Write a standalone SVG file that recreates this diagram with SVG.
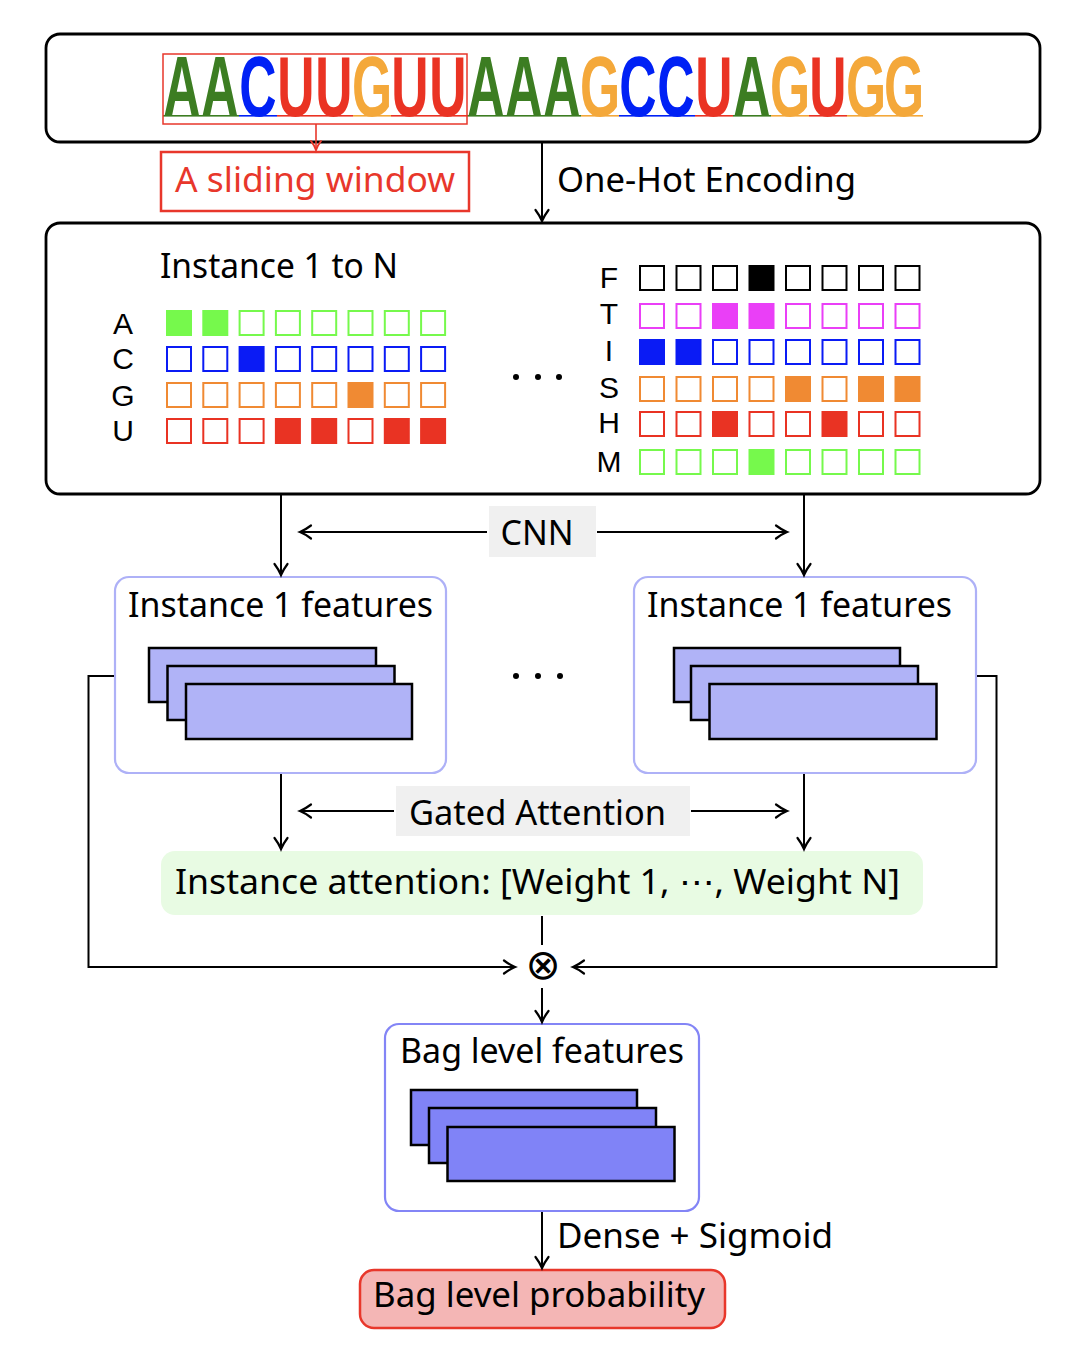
<svg xmlns="http://www.w3.org/2000/svg" width="1072" height="1352" viewBox="0 0 1072 1352">
<defs>
<marker id="ah" markerUnits="userSpaceOnUse" markerWidth="16" markerHeight="16" refX="13" refY="8" orient="auto" overflow="visible">
<path d="M2,1.5 Q8,6 13,8 Q8,10 2,14.5" fill="none" stroke="#000" stroke-width="2.2" stroke-linecap="round"/>
</marker>
<marker id="ahr" markerUnits="userSpaceOnUse" markerWidth="14" markerHeight="14" refX="11" refY="7" orient="auto" overflow="visible">
<path d="M2,2 Q7,5.8 11,7 Q7,8.2 2,12" fill="none" stroke="#E8372B" stroke-width="2" stroke-linecap="round"/>
</marker>
</defs>
<style>
.lbl{font-family:"Noto Sans","Open Sans",sans-serif;font-size:34px;fill:#000}
.row{font-family:"Liberation Sans",Arial,sans-serif;font-size:30px;fill:#000;text-anchor:middle}
.seq{font-family:"Liberation Sans",Arial,sans-serif;font-size:86px;font-weight:bold;text-anchor:middle}
.box{fill:#fff;stroke:#000;stroke-width:2.8}
.feat{fill:#fff;stroke:#AEB1F7;stroke-width:2.2}
.bagf{fill:#fff;stroke:#8385F6;stroke-width:2.2}
.fr{fill:#B0B3F7;stroke:#000;stroke-width:2.5}
.br{fill:#8083F7;stroke:#000;stroke-width:2.5}
.conn{stroke:#000;stroke-width:2;fill:none}
.gray{fill:#F0F0F0}
rect.q{stroke-width:2;fill:#fff}
.a{stroke:#76F94C}.a.f{fill:#76F94C}
.c{stroke:#0A1BF5}.c.f{fill:#0A1BF5}
.g{stroke:#F08A33}.g.f{fill:#F08A33}
.u{stroke:#E93323}.u.f{fill:#E93323}
.k{stroke:#000}.k.f{fill:#000}
.m{stroke:#EA3FF7}.m.f{fill:#EA3FF7}
.LA{fill:#3C7D22}.LC{fill:#0021F5}.LG{fill:#F4A83A}.LU{fill:#EA3323}
</style>

<g id="sequence">
<rect class="box" x="46" y="34" width="994" height="108" rx="14"/>
<g>
<rect x="163" y="115" width="76" height="1.6" fill="#3C7D22"/>
<rect x="239" y="115" width="38" height="1.6" fill="#0021F5"/>
<rect x="277" y="115" width="76" height="1.6" fill="#EA3323"/>
<rect x="353" y="115" width="38" height="1.6" fill="#F4A83A"/>
<rect x="391" y="115" width="76" height="1.6" fill="#EA3323"/>
<rect x="467" y="115" width="114" height="1.6" fill="#3C7D22"/>
<rect x="581" y="115" width="38" height="1.6" fill="#F4A83A"/>
<rect x="619" y="115" width="76" height="1.6" fill="#0021F5"/>
<rect x="695" y="115" width="38" height="1.6" fill="#EA3323"/>
<rect x="733" y="115" width="38" height="1.6" fill="#3C7D22"/>
<rect x="771" y="115" width="38" height="1.6" fill="#F4A83A"/>
<rect x="809" y="115" width="38" height="1.6" fill="#EA3323"/>
<rect x="847" y="115" width="76" height="1.6" fill="#F4A83A"/>
</g>
<text class="seq" transform="scale(0.6 1)" y="116"><tspan class="LA" x="303.333">A</tspan><tspan class="LA" x="366.667">A</tspan><tspan class="LC" x="430">C</tspan><tspan class="LU" x="493.333">U</tspan><tspan class="LU" x="556.667">U</tspan><tspan class="LG" x="620">G</tspan><tspan class="LU" x="683.333">U</tspan><tspan class="LU" x="746.667">U</tspan><tspan class="LA" x="810">A</tspan><tspan class="LA" x="873.333">A</tspan><tspan class="LA" x="936.667">A</tspan><tspan class="LG" x="1000">G</tspan><tspan class="LC" x="1063.333">C</tspan><tspan class="LC" x="1126.667">C</tspan><tspan class="LU" x="1190">U</tspan><tspan class="LA" x="1253.333">A</tspan><tspan class="LG" x="1316.667">G</tspan><tspan class="LU" x="1380">U</tspan><tspan class="LG" x="1443.333">G</tspan><tspan class="LG" x="1506.667">G</tspan></text>
<rect x="163" y="54" width="304" height="70" fill="none" stroke="#E8372B" stroke-width="1.5"/>
</g>

<g id="sliding-window">
<rect x="161" y="152" width="308" height="59" fill="#fff" stroke="#E8372B" stroke-width="2.5"/>
<text class="lbl" x="175" y="192" style="fill:#E8372B" textLength="280" lengthAdjust="spacingAndGlyphs">A sliding window</text>
</g>

<g id="instances">
<rect class="box" x="46" y="223" width="994" height="271" rx="14"/>
<text class="lbl" x="160" y="278" textLength="238" lengthAdjust="spacingAndGlyphs">Instance 1 to N</text>
<text class="row"><tspan x="123" y="334">A</tspan><tspan x="123" y="369">C</tspan><tspan x="123" y="406">G</tspan><tspan x="123" y="441">U</tspan></text>
<g>
<rect class="q a f" x="167" y="311" width="24" height="24"/><rect class="q a f" x="203.3" y="311" width="24" height="24"/><rect class="q a" x="239.6" y="311" width="24" height="24"/><rect class="q a" x="275.9" y="311" width="24" height="24"/><rect class="q a" x="312.2" y="311" width="24" height="24"/><rect class="q a" x="348.5" y="311" width="24" height="24"/><rect class="q a" x="384.8" y="311" width="24" height="24"/><rect class="q a" x="421.1" y="311" width="24" height="24"/>
<rect class="q c" x="167" y="347" width="24" height="24"/><rect class="q c" x="203.3" y="347" width="24" height="24"/><rect class="q c f" x="239.6" y="347" width="24" height="24"/><rect class="q c" x="275.9" y="347" width="24" height="24"/><rect class="q c" x="312.2" y="347" width="24" height="24"/><rect class="q c" x="348.5" y="347" width="24" height="24"/><rect class="q c" x="384.8" y="347" width="24" height="24"/><rect class="q c" x="421.1" y="347" width="24" height="24"/>
<rect class="q g" x="167" y="383" width="24" height="24"/><rect class="q g" x="203.3" y="383" width="24" height="24"/><rect class="q g" x="239.6" y="383" width="24" height="24"/><rect class="q g" x="275.9" y="383" width="24" height="24"/><rect class="q g" x="312.2" y="383" width="24" height="24"/><rect class="q g f" x="348.5" y="383" width="24" height="24"/><rect class="q g" x="384.8" y="383" width="24" height="24"/><rect class="q g" x="421.1" y="383" width="24" height="24"/>
<rect class="q u" x="167" y="419" width="24" height="24"/><rect class="q u" x="203.3" y="419" width="24" height="24"/><rect class="q u" x="239.6" y="419" width="24" height="24"/><rect class="q u f" x="275.9" y="419" width="24" height="24"/><rect class="q u f" x="312.2" y="419" width="24" height="24"/><rect class="q u" x="348.5" y="419" width="24" height="24"/><rect class="q u f" x="384.8" y="419" width="24" height="24"/><rect class="q u f" x="421.1" y="419" width="24" height="24"/>
</g>
<circle cx="516" cy="377" r="3"/><circle cx="538" cy="377" r="3"/><circle cx="559" cy="377" r="3"/>
<text class="row"><tspan x="609" y="288">F</tspan><tspan x="609" y="324">T</tspan><tspan x="609" y="361">I</tspan><tspan x="609" y="398">S</tspan><tspan x="609" y="433">H</tspan><tspan x="609" y="472">M</tspan></text>
<g>
<rect class="q k" x="640" y="266" width="24" height="24"/><rect class="q k" x="676.5" y="266" width="24" height="24"/><rect class="q k" x="713" y="266" width="24" height="24"/><rect class="q k f" x="749.5" y="266" width="24" height="24"/><rect class="q k" x="786" y="266" width="24" height="24"/><rect class="q k" x="822.5" y="266" width="24" height="24"/><rect class="q k" x="859" y="266" width="24" height="24"/><rect class="q k" x="895.5" y="266" width="24" height="24"/>
<rect class="q m" x="640" y="304" width="24" height="24"/><rect class="q m" x="676.5" y="304" width="24" height="24"/><rect class="q m f" x="713" y="304" width="24" height="24"/><rect class="q m f" x="749.5" y="304" width="24" height="24"/><rect class="q m" x="786" y="304" width="24" height="24"/><rect class="q m" x="822.5" y="304" width="24" height="24"/><rect class="q m" x="859" y="304" width="24" height="24"/><rect class="q m" x="895.5" y="304" width="24" height="24"/>
<rect class="q c f" x="640" y="340" width="24" height="24"/><rect class="q c f" x="676.5" y="340" width="24" height="24"/><rect class="q c" x="713" y="340" width="24" height="24"/><rect class="q c" x="749.5" y="340" width="24" height="24"/><rect class="q c" x="786" y="340" width="24" height="24"/><rect class="q c" x="822.5" y="340" width="24" height="24"/><rect class="q c" x="859" y="340" width="24" height="24"/><rect class="q c" x="895.5" y="340" width="24" height="24"/>
<rect class="q g" x="640" y="377" width="24" height="24"/><rect class="q g" x="676.5" y="377" width="24" height="24"/><rect class="q g" x="713" y="377" width="24" height="24"/><rect class="q g" x="749.5" y="377" width="24" height="24"/><rect class="q g f" x="786" y="377" width="24" height="24"/><rect class="q g" x="822.5" y="377" width="24" height="24"/><rect class="q g f" x="859" y="377" width="24" height="24"/><rect class="q g f" x="895.5" y="377" width="24" height="24"/>
<rect class="q u" x="640" y="412" width="24" height="24"/><rect class="q u" x="676.5" y="412" width="24" height="24"/><rect class="q u f" x="713" y="412" width="24" height="24"/><rect class="q u" x="749.5" y="412" width="24" height="24"/><rect class="q u" x="786" y="412" width="24" height="24"/><rect class="q u f" x="822.5" y="412" width="24" height="24"/><rect class="q u" x="859" y="412" width="24" height="24"/><rect class="q u" x="895.5" y="412" width="24" height="24"/>
<rect class="q a" x="640" y="450" width="24" height="24"/><rect class="q a" x="676.5" y="450" width="24" height="24"/><rect class="q a" x="713" y="450" width="24" height="24"/><rect class="q a f" x="749.5" y="450" width="24" height="24"/><rect class="q a" x="786" y="450" width="24" height="24"/><rect class="q a" x="822.5" y="450" width="24" height="24"/><rect class="q a" x="859" y="450" width="24" height="24"/><rect class="q a" x="895.5" y="450" width="24" height="24"/>
</g>
</g>

<g id="cnn-label">
<rect class="gray" x="489" y="506" width="107" height="51"/>
<text class="lbl" x="537" y="545" text-anchor="middle">CNN</text>
</g>

<g id="features-1">
<rect class="feat" x="115" y="577" width="331" height="196" rx="14"/>
<text class="lbl" x="128" y="617" textLength="305" lengthAdjust="spacingAndGlyphs">Instance 1 features</text>
<rect class="fr" x="149" y="648" width="227" height="54"/>
<rect class="fr" x="167.5" y="666" width="227" height="54"/>
<rect class="fr" x="186" y="684" width="226" height="55"/>
</g>

<g id="dots-mid">
<circle cx="516" cy="676" r="3"/><circle cx="538" cy="676" r="3"/><circle cx="560" cy="676" r="3"/>
</g>

<g id="features-n">
<rect class="feat" x="634" y="577" width="342" height="196" rx="14"/>
<text class="lbl" x="647" y="617" textLength="305" lengthAdjust="spacingAndGlyphs">Instance 1 features</text>
<rect class="fr" x="674" y="648" width="226" height="54"/>
<rect class="fr" x="691" y="666" width="227" height="54"/>
<rect class="fr" x="709.5" y="684" width="227" height="55"/>
</g>

<g id="gated-label">
<rect class="gray" x="396" y="786" width="294" height="50"/>
<text class="lbl" x="409" y="825" textLength="257" lengthAdjust="spacingAndGlyphs">Gated Attention</text>
</g>

<g id="attention">
<rect x="161" y="851" width="762" height="64" rx="14" fill="#E8FBE3"/>
<text class="lbl" x="175" y="894" textLength="725" lengthAdjust="spacingAndGlyphs">Instance attention: [Weight 1, ⋯, Weight N]</text>
</g>

<g id="multiply">
<text x="543" y="979" text-anchor="middle" style="font-family:'DejaVu Sans',sans-serif;font-size:42px">⊗</text>
</g>

<g id="bag-features">
<rect class="bagf" x="385" y="1024" width="314" height="187" rx="14"/>
<text class="lbl" x="400" y="1063" textLength="284" lengthAdjust="spacingAndGlyphs">Bag level features</text>
<rect class="br" x="411" y="1090" width="226" height="55"/>
<rect class="br" x="429" y="1108" width="227" height="55"/>
<rect class="br" x="447.5" y="1127" width="227" height="54"/>
</g>

<g id="bag-probability">
<rect x="360" y="1270" width="365" height="58" rx="14" fill="#F4B6B5" stroke="#E8372B" stroke-width="2.5"/>
<text class="lbl" x="373" y="1307" textLength="332" lengthAdjust="spacingAndGlyphs">Bag level probability</text>
</g>

<g id="connectors">
<line class="conn" x1="542" y1="143" x2="542" y2="221" marker-end="url(#ah)"/>
<line x1="316" y1="124" x2="316" y2="150" stroke="#E8372B" stroke-width="1.6" marker-end="url(#ahr)"/>
<line class="conn" x1="281" y1="495" x2="281" y2="575" marker-end="url(#ah)"/>
<line class="conn" x1="804" y1="495" x2="804" y2="575" marker-end="url(#ah)"/>
<line class="conn" x1="487" y1="532" x2="300" y2="532" marker-end="url(#ah)"/>
<line class="conn" x1="597" y1="532" x2="787" y2="532" marker-end="url(#ah)"/>
<line class="conn" x1="281" y1="774" x2="281" y2="849" marker-end="url(#ah)"/>
<line class="conn" x1="804" y1="774" x2="804" y2="849" marker-end="url(#ah)"/>
<line class="conn" x1="394" y1="811" x2="300" y2="811" marker-end="url(#ah)"/>
<line class="conn" x1="691" y1="811" x2="787" y2="811" marker-end="url(#ah)"/>
<line class="conn" x1="542" y1="916" x2="542" y2="945"/>
<polyline class="conn" points="114,676 88.5,676 88.5,967 515,967" marker-end="url(#ah)"/>
<polyline class="conn" points="977,676 996.5,676 996.5,967 573,967" marker-end="url(#ah)"/>
<line class="conn" x1="542" y1="988" x2="542" y2="1022" marker-end="url(#ah)"/>
<line class="conn" x1="542" y1="1212" x2="542" y2="1268" marker-end="url(#ah)"/>
<text class="lbl" x="557" y="192" textLength="299" lengthAdjust="spacingAndGlyphs">One-Hot Encoding</text>
<text class="lbl" x="557" y="1248" textLength="276" lengthAdjust="spacingAndGlyphs">Dense + Sigmoid</text>
</g>
</svg>
